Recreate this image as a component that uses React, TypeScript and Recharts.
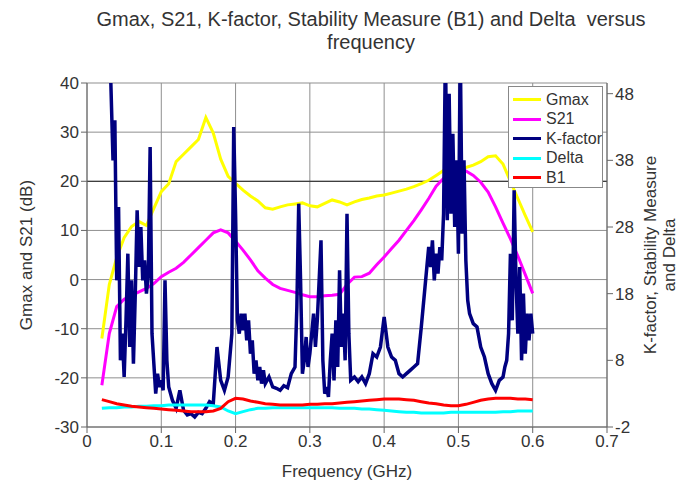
import React from "react";
import { LineChart, Line, XAxis, YAxis, CartesianGrid, ReferenceLine } from "recharts";

// frequency grid (GHz) for the smooth traces
const freqCoarse = [
  0.02, 0.03, 0.04, 0.05, 0.06, 0.07, 0.08, 0.09, 0.1, 0.11, 0.12, 0.13, 0.14, 0.15, 0.16, 0.17, 0.18, 0.19, 0.2,
  0.21, 0.22, 0.23, 0.24, 0.25, 0.26, 0.27, 0.28, 0.29, 0.3, 0.31, 0.32, 0.33, 0.34, 0.35, 0.36, 0.37, 0.38, 0.39,
  0.4, 0.41, 0.42, 0.43, 0.44, 0.45, 0.46, 0.47, 0.48, 0.49, 0.5, 0.51, 0.52, 0.53, 0.54, 0.55, 0.56, 0.57, 0.58,
  0.59, 0.6,
];

const gmax = [
  -12, -1, 4.5, 8.5, 10.8, 11.8, 11, 14.5, 17.9, 19.5, 24, 25.5, 27, 28.5, 33, 29.8, 24.5, 21, 19.6, 18.2, 17, 16,
  14.6, 14.3, 14.8, 15.2, 15.4, 15.6, 15, 14.8, 15.5, 16.2, 15.8, 15.2, 15.8, 16.3, 16.6, 17, 17.2, 17.6, 18, 18.4,
  18.9, 19.5, 20.2, 21.2, 22.2, 22.5, 22.6, 22.8, 23.3, 24, 25, 25.2, 23.5, 20, 16.5, 13, 9.7,
];

const s21 = [
  -21.5, -11, -5.5, -4, -3.2, -2.5, -1.8, -0.8, 0.6, 1.5, 2.3, 3.5, 5, 6.5, 8, 9.5, 10.1, 9.5, 7.8, 6, 4, 1.8, 0.3,
  -1, -1.8, -2.2, -2.6, -3.1, -3.5, -3.5, -3.3, -3.2, -3, -1, 0.5, 0.6, 1.3, 3, 4.6, 6.3, 8, 10, 12, 14.2, 16.5, 19,
  20.6, 21.8, 22.3, 22.1, 21.2, 19.8, 17.8, 14.8, 11.5, 8.3, 4.8, 1, -2.8,
];

const delta = [
  0.8, 0.9, 0.9, 1.0, 1.0, 1.1, 1.1, 1.2, 1.2, 1.3, 1.3, 1.3, 1.3, 1.3, 1.3, 1.2, 1.0, 0.4, 0.0, 0.3, 0.6, 0.8, 0.8,
  0.9, 0.9, 0.9, 0.9, 0.9, 0.9, 0.9, 0.9, 0.9, 0.8, 0.8, 0.8, 0.7, 0.7, 0.6, 0.5, 0.4, 0.3, 0.2, 0.2, 0.1, 0.1, 0.1,
  0.1, 0.2, 0.2, 0.2, 0.2, 0.2, 0.2, 0.2, 0.3, 0.3, 0.4, 0.4, 0.4,
];

const b1 = [
  2.1, 1.8, 1.5, 1.3, 1.1, 1.0, 0.9, 0.8, 0.7, 0.6, 0.5, 0.4, 0.3, 0.3, 0.3, 0.4, 0.8, 1.8, 2.3, 2.2, 1.9, 1.7, 1.5,
  1.4, 1.3, 1.3, 1.3, 1.3, 1.4, 1.4, 1.5, 1.5, 1.6, 1.7, 1.8, 1.9, 2.0, 2.1, 2.2, 2.2, 2.2, 2.1, 2.0, 1.8, 1.6, 1.5,
  1.3, 1.2, 1.2, 1.4, 1.7, 2.0, 2.2, 2.3, 2.3, 2.3, 2.2, 2.2, 2.1,
];

// K-factor is noisy, so it gets its own grid (finer where it oscillates hard)
const kFreq = [
  0.02, 0.0225, 0.025, 0.0275, 0.03, 0.0325, 0.035, 0.0375, 0.04, 0.0425, 0.045, 0.0475, 0.05, 0.0525, 0.055, 0.0575,
  0.06, 0.0625, 0.065, 0.0675, 0.07, 0.0725, 0.075, 0.0775, 0.08, 0.0825, 0.085, 0.0875, 0.09, 0.0925, 0.095, 0.0975,
  0.1, 0.1025, 0.105, 0.1075,
  0.11, 0.115, 0.12, 0.125, 0.13, 0.135, 0.14, 0.145, 0.15, 0.155, 0.16, 0.165, 0.17, 0.175, 0.18, 0.185, 0.19,
  0.195, 0.1975, 0.2, 0.2025, 0.205, 0.2075, 0.21, 0.2125, 0.215, 0.2175, 0.22, 0.2225, 0.225, 0.2275, 0.23, 0.2325,
  0.235, 0.2375,
  0.24, 0.245, 0.25, 0.255, 0.26, 0.265, 0.27, 0.275, 0.28,
  0.2825, 0.285, 0.2875, 0.29, 0.2925, 0.295, 0.2975, 0.3, 0.3025, 0.305, 0.3075, 0.31, 0.3125, 0.315, 0.3175, 0.32,
  0.3225, 0.325, 0.3275, 0.33, 0.3325, 0.335, 0.3375, 0.34, 0.3425, 0.345, 0.3475, 0.35, 0.3525, 0.355,
  0.36, 0.365, 0.37, 0.375, 0.38, 0.385, 0.39, 0.395, 0.4, 0.405, 0.41, 0.415, 0.42, 0.425, 0.43, 0.435, 0.44, 0.445,
  0.45, 0.4525, 0.455, 0.4575, 0.46, 0.4625, 0.465, 0.4675, 0.47, 0.4725, 0.475, 0.4775, 0.48, 0.4825, 0.485, 0.4875,
  0.49, 0.4925, 0.495, 0.4975, 0.5, 0.5025, 0.505, 0.5075, 0.51, 0.5125,
  0.515, 0.52, 0.525, 0.53, 0.535, 0.54, 0.545, 0.55, 0.555, 0.56,
  0.5625, 0.565, 0.5675, 0.57, 0.5725, 0.575, 0.5775, 0.58, 0.5825, 0.585, 0.5875, 0.59, 0.5925, 0.595, 0.5975, 0.6,
];

const kFactor = [
  62, 56, 60, 52, 58, 48, 38, 44, 20, 31, 8, 12, 5.5, 14, 24, 10,
  20, 7.5, 18, 30.5, 22, 28, 20, 23, 18, 21, 40, 12, 7.5, 3, 6, 4,
  5, 3.5, 20, 8,
  4, 2, 0.8, 3.5, 0.5, -0.2, 0, -0.5, 0.2, 0, 0.8, 1.8, 1.5, 10, 5, 3.5, 5.5,
  12, 43, 30, 14, 12, 15, 12.5, 15, 11, 14, 9, 11, 6, 8, 5, 7,
  4.5, 6.5,
  4.5, 5.5, 4, 3.8, 3.5, 4.2, 3.9, 6, 7,
  16, 31.5, 20, 6, 8, 11.5, 7, 9, 12, 15, 10, 14, 20, 26, 8, 3,
  4, 2.5, 8, 12, 5, 14, 7, 21.5, 10, 15, 8, 30, 12, 5,
  5.5, 4.8, 5.5, 4.5, 6, 9, 8.5, 10, 14.5, 10, 8.5, 8, 6, 5.5, 6, 6.5, 7, 7.5,
  13, 16, 19, 22, 25, 22, 26, 20, 24, 21, 25, 23, 30, 55, 29, 48,
  30, 42, 28, 38, 24, 55, 27, 38, 23, 17,
  15, 13.5, 13, 10, 8.5, 6, 4.5, 3.5, 5, 5.5,
  7, 8, 12, 24, 14, 33.5, 20, 12, 22, 8, 18, 9, 15, 11, 15, 12,
];

const xTicks = [0, 0.1, 0.2, 0.3, 0.4, 0.5, 0.6, 0.7];
const leftTicks = [-30, -20, -10, 0, 10, 20, 30, 40];
const rightTicks = [-2, 8, 18, 28, 38, 48];

const series = [
  { key: "gmax", name: "Gmax", color: "#ffff00" },
  { key: "s21", name: "S21", color: "#ff00ff" },
  { key: "k", name: "K-factor", color: "#000080" },
  { key: "delta", name: "Delta", color: "#00ffff" },
  { key: "b1", name: "B1", color: "#ff0000" },
];

const smoothData = freqCoarse.map((f, i) => ({ f, gmax: gmax[i], s21: s21[i], delta: delta[i], b1: b1[i] }));
const kData = kFreq.map((f, i) => ({ f, k: kFactor[i] }));

const font = '"Liberation Sans", Arial, sans-serif';
const tick = { fill: "#333", fontSize: 17, fontFamily: font };

function LegendBox() {
  return (
    <div
      style={{
        position: "absolute",
        left: 508,
        top: 86,
        width: 95,
        height: 102,
        border: "1px solid #888",
        background: "#fff",
        boxSizing: "border-box",
        paddingTop: 3,
      }}
    >
      {series.map((s) => (
        <div key={s.key} style={{ display: "flex", alignItems: "center", height: 19.5 }}>
          <div style={{ width: 28, height: 3, background: s.color, marginLeft: 4, marginRight: 5 }} />
          <span style={{ fontSize: 16, color: "#333" }}>{s.name}</span>
        </div>
      ))}
    </div>
  );
}

export default function App() {
  return (
    <div style={{ position: "absolute", left: 0, top: 0, width: 680, height: 492, background: "#fff", fontFamily: font }}>
      <LineChart width={680} height={492} margin={{ top: 83, right: 0, bottom: 35, left: 0 }}>
        <CartesianGrid yAxisId="left" stroke="#8f8f8f" />
        <XAxis
          dataKey="f"
          type="number"
          domain={[0, 0.7]}
          ticks={xTicks}
          height={30}
          tick={tick}
          tickLine={{ stroke: "#666" }}
          axisLine={{ stroke: "#666" }}
        />
        <YAxis
          yAxisId="left"
          domain={[-30, 40]}
          ticks={leftTicks}
          width={87}
          tick={tick}
          tickLine={{ stroke: "#666" }}
          axisLine={{ stroke: "#666" }}
          allowDataOverflow
        />
        <YAxis
          yAxisId="right"
          orientation="right"
          domain={[-2, 49.6]}
          ticks={rightTicks}
          width={73}
          tick={tick}
          tickLine={{ stroke: "#666" }}
          axisLine={{ stroke: "#666" }}
          allowDataOverflow
        />
        <ReferenceLine yAxisId="left" y={20} stroke="#222" />
        <Line yAxisId="left" data={smoothData} dataKey="gmax" name="Gmax" stroke="#ffff00" strokeWidth={3} dot={false} isAnimationActive={false} />
        <Line yAxisId="left" data={smoothData} dataKey="s21" name="S21" stroke="#ff00ff" strokeWidth={3} dot={false} isAnimationActive={false} />
        <Line yAxisId="right" data={kData} dataKey="k" name="K-factor" stroke="#000080" strokeWidth={3.5} dot={false} isAnimationActive={false} />
        <Line yAxisId="right" data={smoothData} dataKey="delta" name="Delta" stroke="#00ffff" strokeWidth={3} dot={false} isAnimationActive={false} />
        <Line yAxisId="right" data={smoothData} dataKey="b1" name="B1" stroke="#ff0000" strokeWidth={3} dot={false} isAnimationActive={false} />
      </LineChart>
      <div style={{ position: "absolute", left: 71, width: 600, top: 8, textAlign: "center", fontSize: 20, color: "#333", lineHeight: "23px" }}>
        Gmax, S21, K-factor, Stability Measure (B1) and Delta&nbsp; versus
        <br />
        frequency
      </div>
      <div
        style={{
          position: "absolute",
          left: 27,
          top: 255,
          transform: "translate(-50%, -50%) rotate(-90deg)",
          whiteSpace: "nowrap",
          fontSize: 17,
          color: "#333",
        }}
      >
        Gmax and S21 (dB)
      </div>
      <div
        style={{
          position: "absolute",
          left: 660,
          top: 255,
          transform: "translate(-50%, -50%) rotate(-90deg)",
          whiteSpace: "nowrap",
          fontSize: 17,
          color: "#333",
          textAlign: "center",
          lineHeight: "19px",
        }}
      >
        K-factor, Stability Measure
        <br />
        and Delta
      </div>
      <div style={{ position: "absolute", left: 347, top: 462, transform: "translateX(-50%)", fontSize: 17, color: "#333", whiteSpace: "nowrap" }}>
        Frequency (GHz)
      </div>
      <LegendBox />
    </div>
  );
}
